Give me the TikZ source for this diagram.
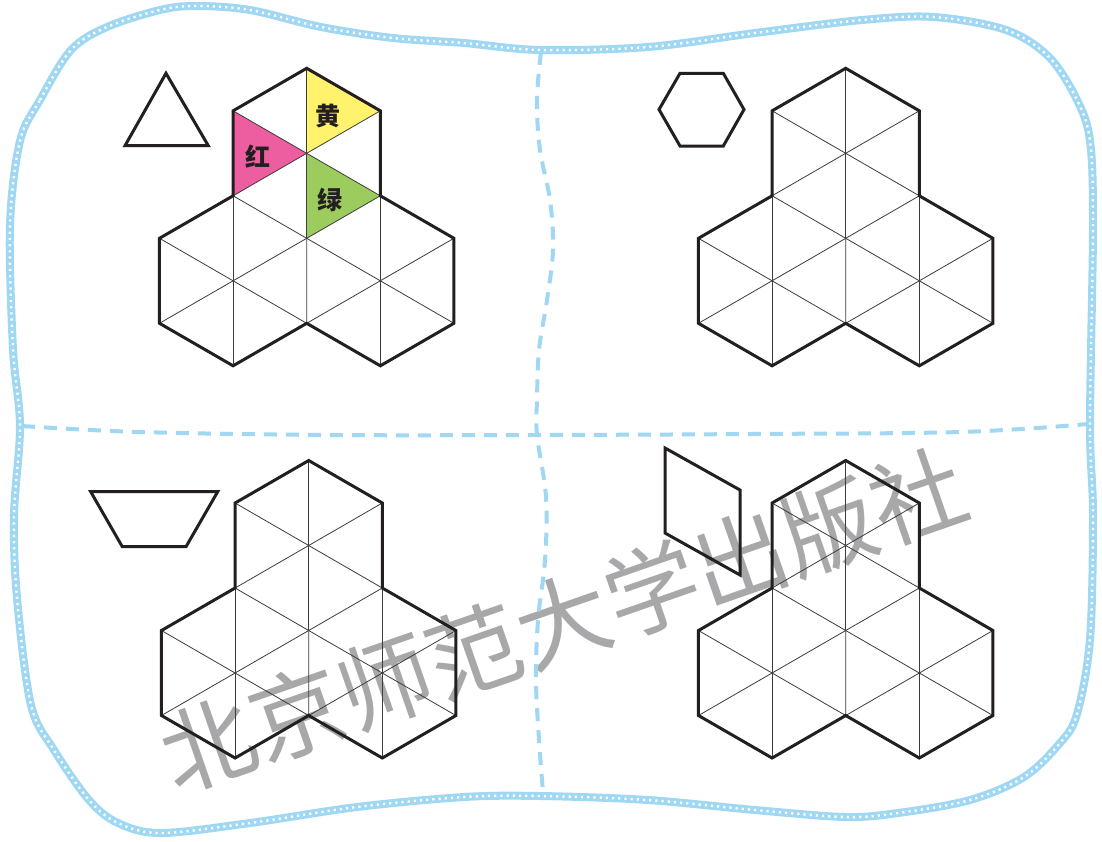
\documentclass[tikz,border=0pt]{standalone}
\usepackage{fontspec}
\newfontfamily\cjk{Noto Sans CJK SC}
\definecolor{bordblue}{RGB}{160,216,244}
\definecolor{inkblack}{RGB}{35,31,32}
\definecolor{thingray}{RGB}{60,60,60}
\definecolor{wmgray}{RGB}{168,168,170}
\definecolor{pinkfill}{RGB}{236,94,159}
\definecolor{yellowfill}{RGB}{255,243,110}
\definecolor{greenfill}{RGB}{156,203,94}
\newcommand{\drawtrefoil}[2]{%
\begin{scope}[shift={(#1,#2)}]
  \foreach \cx/\cy in {0/-85, -73.61/42.5, 73.61/42.5} {
    \draw[thinline] (\cx,\cy-85) -- (\cx,\cy+85);
    \draw[thinline] (\cx-73.61,\cy-42.5) -- (\cx+73.61,\cy+42.5);
    \draw[thinline] (\cx-73.61,\cy+42.5) -- (\cx+73.61,\cy-42.5);
  }
  \draw[thinline] (0,0) -- (0,85) (0,0) -- (-73.61,-42.5) (0,0) -- (73.61,-42.5);
  \draw[thickline] (0,-170) -- (73.61,-127.5) -- (73.61,-42.5) -- (147.22,0)
    -- (147.22,85) -- (73.61,127.5) -- (0,85) -- (-73.61,127.5) -- (-147.22,85)
    -- (-147.22,0) -- (-73.61,-42.5) -- (-73.61,-127.5) -- cycle;
\end{scope}}
\begin{document}
\begin{tikzpicture}[x=1pt,y=-1pt,
  thickline/.style={line width=3pt, draw=inkblack, line join=miter},
  thinline/.style={line width=0.8pt, draw=thingray},
  bordline/.style={line width=8pt, draw=bordblue},
  borddots/.style={line width=2.4pt, draw=white, dash pattern=on 2.2pt off 4pt},
  divline/.style={line width=4pt, draw=bordblue, dash pattern=on 13pt off 9pt},
  lbl/.style={font=\cjk\bfseries\fontsize{25}{25}\selectfont, text=inkblack, inner sep=0pt}]
\useasboundingbox (0,0) rectangle (1102,841);
\fill[white] (0,0) rectangle (1102,841);

% watermark
\node[rotate=19.2, text=wmgray, font=\cjk\fontsize{94}{94}\selectfont, inner sep=0pt] (wm) at (563,620) {北京师范大学出版社};

% outer border
\draw[bordline] plot[smooth cycle, tension=0.55] coordinates {
 (20,141) (40,100) (71,50) (107,27) (160,10) (196,6) (250,10) (321,27) (393,38)
 (464,43) (540,50) (648,47) (755,33) (862,20) (934,17) (1006,30) (1049,57)
 (1077,100) (1090,141) (1093,225) (1090,424) (1093,515) (1090,639) (1077,714)
 (1060,743) (1024,777) (970,800) (898,813) (845,817) (755,810) (648,800)
 (540,796) (464,797) (357,807) (250,823) (161,833) (118,823) (89,800) (54,750)
 (31,705) (17,598) (14,515) (20,426) (13,349) (10,225)};
\draw[borddots] plot[smooth cycle, tension=0.55] coordinates {
 (20,141) (40,100) (71,50) (107,27) (160,10) (196,6) (250,10) (321,27) (393,38)
 (464,43) (540,50) (648,47) (755,33) (862,20) (934,17) (1006,30) (1049,57)
 (1077,100) (1090,141) (1093,225) (1090,424) (1093,515) (1090,639) (1077,714)
 (1060,743) (1024,777) (970,800) (898,813) (845,817) (755,810) (648,800)
 (540,796) (464,797) (357,807) (250,823) (161,833) (118,823) (89,800) (54,750)
 (31,705) (17,598) (14,515) (20,426) (13,349) (10,225)};

% dividers
\draw[divline] plot[smooth, tension=0.6] coordinates {
 (541,52) (537,100) (540,150) (550,200) (553,250) (547,300) (539,350) (537,400)
 (537,435) (546,497) (545,560) (538,620) (536,680) (539,740) (543,792)};
\draw[divline] plot[smooth, tension=0.6] coordinates {
 (22,426) (140,432) (330,435) (540,435) (750,434) (960,432) (1088,424)};

% colored triangles (top-left)
\begin{scope}[shift={(306.7,238.3)}]
  \fill[pinkfill] (-73.61,-127.5) -- (0,-85) -- (-73.61,-42.5) -- cycle;
  \fill[yellowfill] (0,-170) -- (73.61,-127.5) -- (0,-85) -- cycle;
  \fill[greenfill] (0,-85) -- (73.61,-42.5) -- (0,0) -- cycle;
\end{scope}

\drawtrefoil{306.7}{238.3}
\drawtrefoil{845.7}{238.3}
\drawtrefoil{308.7}{630.5}
\drawtrefoil{845.7}{630.5}

\node[lbl] (huang) at (328,116) {黄};
\node[lbl] (hong) at (258,157) {红};
\node[lbl] (lv) at (330,200) {绿};

% pattern blocks
\draw[thickline] (166,73.3) -- (208.3,145.7) -- (125,145.7) -- cycle;
\draw[thickline] (680,73.3) -- (723.3,73.3) -- (744,109.5) -- (723.3,146) -- (680,146) -- (659,109.5) -- cycle;
\draw[thickline] (90.7,491.7) -- (217.7,491.7) -- (186,546.7) -- (122.3,546.7) -- cycle;
\draw[thickline] (665,448) -- (740,490) -- (740,575) -- (665,533) -- cycle;
\end{tikzpicture}
\end{document}
